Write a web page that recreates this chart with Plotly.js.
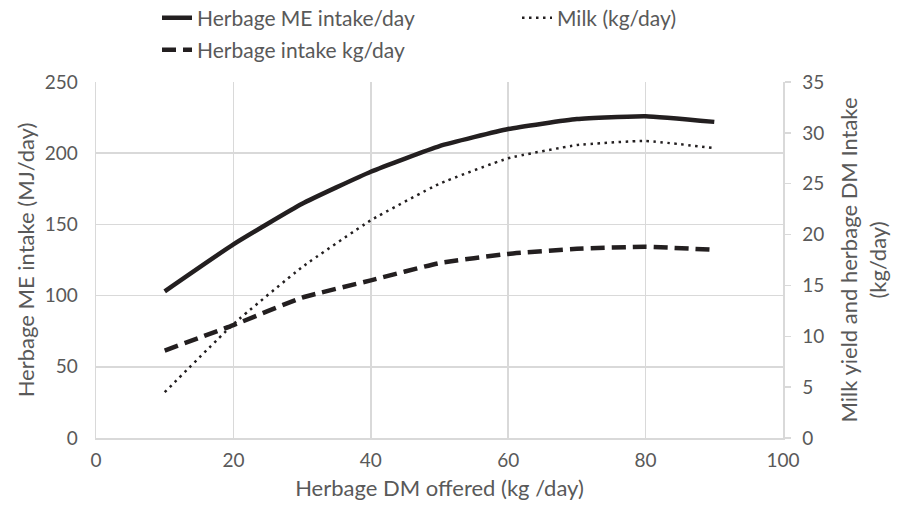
<!DOCTYPE html>
<html><head><meta charset="utf-8">
<script src="https://cdn.plot.ly/plotly-3.0.1.min.js"></script>
<style>body{margin:0;background:#fff}#c{width:902px;height:511px}</style>
</head><body><div id="c"></div>
<script>
const herbageOffered = [10, 20, 30, 40, 50, 60, 70, 80, 90];
const herbageME = [103, 136, 164.5, 187, 205, 217, 224, 226, 222];
const milkYield = [4.5, 11.2, 16.8, 21.4, 25.0, 27.5, 28.8, 29.2, 28.5];
const herbageIntake = [8.6, 11.1, 13.8, 15.5, 17.2, 18.1, 18.6, 18.8, 18.5];
const xTicks = [0, 20, 40, 60, 80, 100];

const FONT = 'Lato, Carlito, sans-serif';
const GREY = '#595959';
const INK = '#231f20';

const traces = [
  {x: herbageOffered, y: herbageME, name: 'Herbage ME intake/day', mode: 'lines', legend: 'legend',
   line: {color: INK, width: 4.5, shape: 'spline', smoothing: 0.4}, yaxis: 'y'},
  {x: herbageOffered, y: milkYield, name: 'Milk (kg/day)', mode: 'lines', legend: 'legend2',
   line: {color: INK, width: 2.5, dash: '2.5px,4.5px', shape: 'spline', smoothing: 0.4}, yaxis: 'y2'},
  {x: herbageOffered, y: herbageIntake, name: 'Herbage intake kg/day', mode: 'lines', legend: 'legend3',
   line: {color: INK, width: 4.5, dash: '14px,7px', shape: 'spline', smoothing: 0.4}, yaxis: 'y2'}
];

const legendCommon = {orientation: 'h', xref: 'container', yref: 'container', xanchor: 'left', yanchor: 'middle',
  font: {size: 21, color: GREY}, bgcolor: 'rgba(0,0,0,0)', borderwidth: 0};

const layout = {
  width: 902, height: 511,
  margin: {l: 96, r: 119, t: 82, b: 73, autoexpand: false},
  paper_bgcolor: '#fff', plot_bgcolor: '#fff',
  font: {family: FONT, color: GREY, size: 20},
  showlegend: true,
  legend: Object.assign({}, legendCommon, {x: 157/902, y: 1 - 18/511}),
  legend2: Object.assign({}, legendCommon, {x: 517/902, y: 1 - 18/511}),
  legend3: Object.assign({}, legendCommon, {x: 157/902, y: 1 - 50/511}),
  xaxis: {range: [0, 100], tickvals: xTicks, showgrid: true, gridcolor: '#d9d9d9', gridwidth: 1.5,
          zeroline: false, showline: true, linecolor: '#d9d9d9', linewidth: 1.5, mirror: false,
          ticks: '', ticklabelstandoff: 5, tickfont: {size: 19, color: GREY}, automargin: false,
          title: {text: 'Herbage DM offered (kg /day)', font: {size: 22, color: GREY}, standoff: 10}},
  yaxis: {range: [0, 250], dtick: 50, showgrid: true, gridcolor: '#d9d9d9', gridwidth: 1.5,
          zeroline: false, showline: true, linecolor: '#d9d9d9', linewidth: 1.5, automargin: false,
          ticks: '', ticklabelstandoff: 13, tickfont: {size: 19, color: GREY},
          title: {text: 'Herbage ME intake (MJ/day)', font: {size: 22, color: GREY}, standoff: 4}},
  yaxis2: {range: [0, 35], dtick: 5, overlaying: 'y', side: 'right', showgrid: false, automargin: false,
           zeroline: false, showline: true, linecolor: '#d9d9d9', linewidth: 1.5,
           ticks: 'outside', ticklen: 6, tickcolor: '#d9d9d9', tickwidth: 1.5, ticklabelstandoff: 8,
           tickfont: {size: 19, color: GREY},
           title: {text: 'Milk yield and herbage DM Intake<br>(kg/day)', font: {size: 22, color: GREY}, standoff: 18}}
};

Plotly.newPlot('c', traces, layout, {displayModeBar: false, staticPlot: true});
</script></body></html>
